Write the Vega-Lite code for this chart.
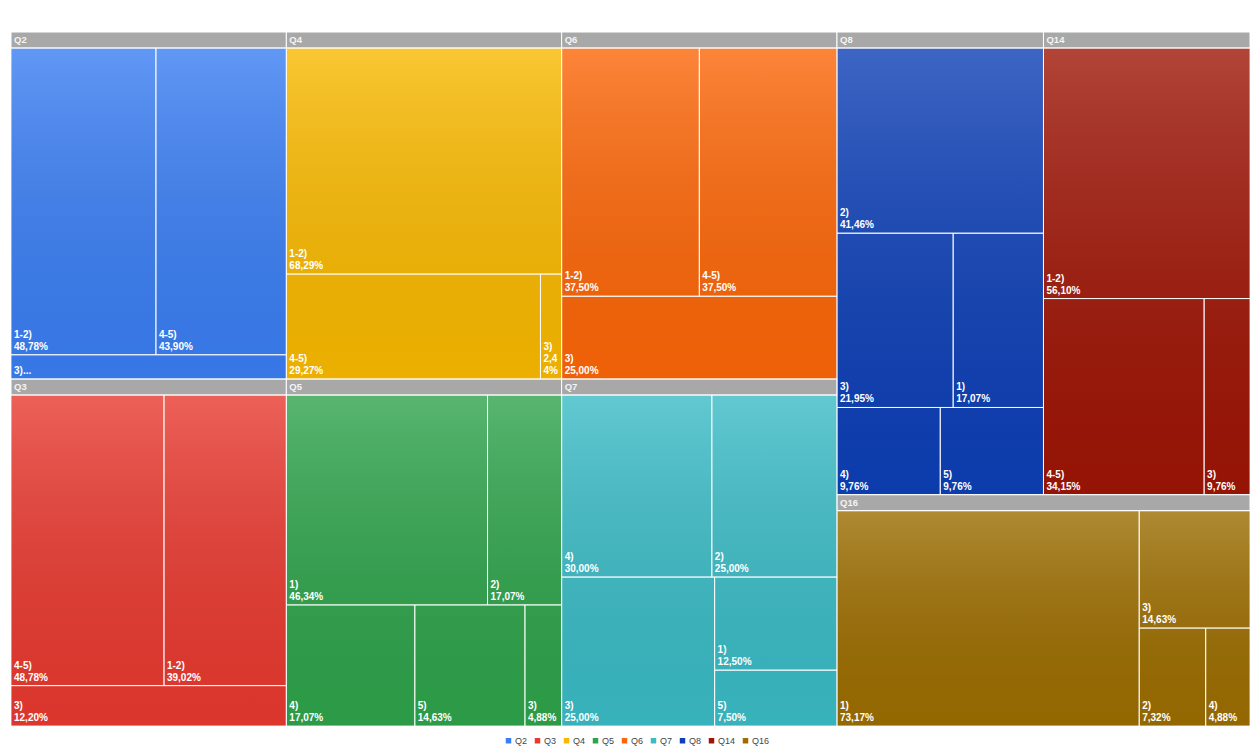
{
  "$schema": "https://vega.github.io/schema/vega-lite/v6.json",
  "width": 1239,
  "height": 694,
  "autosize": {"type": "none"},
  "padding": {"left": 11, "top": 32, "right": 1, "bottom": 27},
  "background": "white",
  "config": {"view": {"stroke": null}},
  "data": {"values": [
    {"question": "Q2", "col": 1, "row": 1, "g": 1, "a": 1, "b": 1, "c": 1, "d": 1, "label": "1-2)", "value": 48.78},
    {"question": "Q2", "col": 1, "row": 1, "g": 1, "a": 1, "b": 2, "c": 1, "d": 1, "label": "4-5)", "value": 43.90},
    {"question": "Q2", "col": 1, "row": 1, "g": 1, "a": 2, "b": 1, "c": 1, "d": 1, "label": "3)", "value": 7.32, "display": "3)..."},
    {"question": "Q3", "col": 1, "row": 2, "g": 1, "a": 1, "b": 1, "c": 1, "d": 1, "label": "4-5)", "value": 48.78},
    {"question": "Q3", "col": 1, "row": 2, "g": 1, "a": 1, "b": 2, "c": 1, "d": 1, "label": "1-2)", "value": 39.02},
    {"question": "Q3", "col": 1, "row": 2, "g": 1, "a": 2, "b": 1, "c": 1, "d": 1, "label": "3)", "value": 12.20},
    {"question": "Q4", "col": 2, "row": 1, "g": 1, "a": 1, "b": 1, "c": 1, "d": 1, "label": "1-2)", "value": 68.29},
    {"question": "Q4", "col": 2, "row": 1, "g": 1, "a": 2, "b": 1, "c": 1, "d": 1, "label": "4-5)", "value": 29.27},
    {"question": "Q4", "col": 2, "row": 1, "g": 1, "a": 2, "b": 2, "c": 1, "d": 1, "label": "3)", "value": 2.44, "display": "3)\n2,4\n4%"},
    {"question": "Q5", "col": 2, "row": 2, "g": 1, "a": 1, "b": 1, "c": 1, "d": 1, "label": "1)", "value": 46.34},
    {"question": "Q5", "col": 2, "row": 2, "g": 1, "a": 1, "b": 2, "c": 1, "d": 1, "label": "2)", "value": 17.07},
    {"question": "Q5", "col": 2, "row": 2, "g": 1, "a": 2, "b": 1, "c": 1, "d": 1, "label": "4)", "value": 17.07},
    {"question": "Q5", "col": 2, "row": 2, "g": 1, "a": 2, "b": 2, "c": 1, "d": 1, "label": "5)", "value": 14.63},
    {"question": "Q5", "col": 2, "row": 2, "g": 1, "a": 2, "b": 3, "c": 1, "d": 1, "label": "3)", "value": 4.88},
    {"question": "Q6", "col": 3, "row": 1, "g": 1, "a": 1, "b": 1, "c": 1, "d": 1, "label": "1-2)", "value": 37.50},
    {"question": "Q6", "col": 3, "row": 1, "g": 1, "a": 1, "b": 2, "c": 1, "d": 1, "label": "4-5)", "value": 37.50},
    {"question": "Q6", "col": 3, "row": 1, "g": 1, "a": 2, "b": 1, "c": 1, "d": 1, "label": "3)", "value": 25.00},
    {"question": "Q7", "col": 3, "row": 2, "g": 1, "a": 1, "b": 1, "c": 1, "d": 1, "label": "4)", "value": 30.00},
    {"question": "Q7", "col": 3, "row": 2, "g": 1, "a": 1, "b": 2, "c": 1, "d": 1, "label": "2)", "value": 25.00},
    {"question": "Q7", "col": 3, "row": 2, "g": 1, "a": 2, "b": 1, "c": 1, "d": 1, "label": "3)", "value": 25.00},
    {"question": "Q7", "col": 3, "row": 2, "g": 1, "a": 2, "b": 2, "c": 1, "d": 1, "label": "1)", "value": 12.50},
    {"question": "Q7", "col": 3, "row": 2, "g": 1, "a": 2, "b": 2, "c": 2, "d": 1, "label": "5)", "value": 7.50},
    {"question": "Q8", "col": 4, "row": 1, "g": 1, "a": 1, "b": 1, "c": 1, "d": 1, "label": "2)", "value": 41.46},
    {"question": "Q8", "col": 4, "row": 1, "g": 1, "a": 2, "b": 1, "c": 1, "d": 1, "label": "3)", "value": 21.95},
    {"question": "Q8", "col": 4, "row": 1, "g": 1, "a": 2, "b": 2, "c": 1, "d": 1, "label": "1)", "value": 17.07},
    {"question": "Q8", "col": 4, "row": 1, "g": 1, "a": 3, "b": 1, "c": 1, "d": 1, "label": "4)", "value": 9.76},
    {"question": "Q8", "col": 4, "row": 1, "g": 1, "a": 3, "b": 2, "c": 1, "d": 1, "label": "5)", "value": 9.76},
    {"question": "Q14", "col": 4, "row": 1, "g": 2, "a": 1, "b": 1, "c": 1, "d": 1, "label": "1-2)", "value": 56.10},
    {"question": "Q14", "col": 4, "row": 1, "g": 2, "a": 2, "b": 1, "c": 1, "d": 1, "label": "4-5)", "value": 34.15},
    {"question": "Q14", "col": 4, "row": 1, "g": 2, "a": 2, "b": 2, "c": 1, "d": 1, "label": "3)", "value": 9.76},
    {"question": "Q16", "col": 4, "row": 2, "g": 1, "a": 1, "b": 1, "c": 1, "d": 1, "label": "1)", "value": 73.17},
    {"question": "Q16", "col": 4, "row": 2, "g": 1, "a": 1, "b": 2, "c": 1, "d": 1, "label": "3)", "value": 14.63},
    {"question": "Q16", "col": 4, "row": 2, "g": 1, "a": 1, "b": 2, "c": 2, "d": 1, "label": "2)", "value": 7.32},
    {"question": "Q16", "col": 4, "row": 2, "g": 1, "a": 1, "b": 2, "c": 2, "d": 2, "label": "4)", "value": 4.88}
  ]},
  "transform": [
    {"stack": "value", "groupby": [], "offset": "normalize", "as": ["s1a", "s1b"],
     "sort": [{"field": "col"}, {"field": "row"}, {"field": "g"}, {"field": "a"}, {"field": "b"}, {"field": "c"}, {"field": "d"}]},
    {"joinaggregate": [{"op": "min", "field": "s1a", "as": "p1"}, {"op": "max", "field": "s1b", "as": "q1"}], "groupby": ["col"]},
    {"stack": "value", "groupby": ["col"], "offset": "normalize", "as": ["s2a", "s2b"],
     "sort": [{"field": "row"}, {"field": "g"}, {"field": "a"}, {"field": "b"}, {"field": "c"}, {"field": "d"}]},
    {"joinaggregate": [{"op": "min", "field": "s2a", "as": "p2"}, {"op": "max", "field": "s2b", "as": "q2"}], "groupby": ["col", "row"]},
    {"stack": "value", "groupby": ["col", "row"], "offset": "normalize", "as": ["s3a", "s3b"],
     "sort": [{"field": "g"}, {"field": "a"}, {"field": "b"}, {"field": "c"}, {"field": "d"}]},
    {"joinaggregate": [{"op": "min", "field": "s3a", "as": "p3"}, {"op": "max", "field": "s3b", "as": "q3"}], "groupby": ["col", "row", "g"]},
    {"calculate": "datum.p1 + (datum.q1 - datum.p1) * datum.p3", "as": "gx0"},
    {"calculate": "datum.p1 + (datum.q1 - datum.p1) * datum.q3", "as": "gx1"},
    {"calculate": "datum.p2", "as": "gy0"},
    {"calculate": "datum.q2", "as": "gy1"},
    {"calculate": "datum.p2 + 16 / 694", "as": "hy"},
    {"stack": "value", "groupby": ["col", "row", "g"], "offset": "normalize", "as": ["s4a", "s4b"],
     "sort": [{"field": "a"}, {"field": "b"}, {"field": "c"}, {"field": "d"}]},
    {"joinaggregate": [{"op": "min", "field": "s4a", "as": "p4"}, {"op": "max", "field": "s4b", "as": "q4"}], "groupby": ["col", "row", "g", "a"]},
    {"calculate": "datum.hy + (datum.gy1 - datum.hy) * datum.p4", "as": "ly0"},
    {"calculate": "datum.hy + (datum.gy1 - datum.hy) * datum.q4", "as": "ly1"},
    {"stack": "value", "groupby": ["col", "row", "g", "a"], "offset": "normalize", "as": ["s5a", "s5b"],
     "sort": [{"field": "b"}, {"field": "c"}, {"field": "d"}]},
    {"joinaggregate": [{"op": "min", "field": "s5a", "as": "p5"}, {"op": "max", "field": "s5b", "as": "q5"}], "groupby": ["col", "row", "g", "a", "b"]},
    {"calculate": "datum.gx0 + (datum.gx1 - datum.gx0) * datum.p5", "as": "lx0"},
    {"calculate": "datum.gx0 + (datum.gx1 - datum.gx0) * datum.q5", "as": "lx1"},
    {"stack": "value", "groupby": ["col", "row", "g", "a", "b"], "offset": "normalize", "as": ["s6a", "s6b"],
     "sort": [{"field": "c"}, {"field": "d"}]},
    {"joinaggregate": [{"op": "min", "field": "s6a", "as": "p6"}, {"op": "max", "field": "s6b", "as": "q6"}], "groupby": ["col", "row", "g", "a", "b", "c"]},
    {"calculate": "datum.ly0 + (datum.ly1 - datum.ly0) * datum.p6", "as": "my0"},
    {"calculate": "datum.ly0 + (datum.ly1 - datum.ly0) * datum.q6", "as": "my1"},
    {"stack": "value", "groupby": ["col", "row", "g", "a", "b", "c"], "offset": "normalize", "as": ["s7a", "s7b"],
     "sort": [{"field": "d"}]},
    {"calculate": "datum.lx0 + (datum.lx1 - datum.lx0) * datum.s7a", "as": "mx0"},
    {"calculate": "datum.lx0 + (datum.lx1 - datum.lx0) * datum.s7b", "as": "mx1"},
    {"calculate": "datum.display ? datum.display : datum.label + '\\n' + replace(format(datum.value, '.2f'), '.', ',') + '%'", "as": "txt"},
    {"calculate": "datum.my1 - (length(split(datum.txt, '\\n')) - 1) * 12 / 694", "as": "ty"}
  ],
  "layer": [
    {
      "mark": {"type": "rect", "strokeWidth": 0},
      "encoding": {
        "x": {"field": "mx0", "type": "quantitative", "axis": null, "scale": {"domain": [0, 1], "nice": false, "zero": false}},
        "x2": {"field": "mx1"},
        "y": {"field": "my0", "type": "quantitative", "axis": null, "scale": {"domain": [0, 1], "nice": false, "zero": false, "reverse": true}},
        "y2": {"field": "my1"},
        "color": {
          "field": "question", "type": "nominal",
          "scale": {
            "domain": ["Q2", "Q3", "Q4", "Q5", "Q6", "Q7", "Q8", "Q14", "Q16"],
            "range": ["#3a7ef3", "#e8392f", "#f9b900", "#2ea34b", "#fc6608", "#3abbc5", "#0d3fb6", "#9e1506", "#9c6d00"]
          },
          "legend": {
            "title": null, "orient": "none", "direction": "horizontal",
            "legendX": 493, "legendY": 704,
            "symbolType": "square", "symbolSize": 30, "symbolStrokeWidth": 0,
            "labelFontSize": 9, "labelColor": "#444444", "labelFont": "Liberation Sans",
            "labelOffset": 2, "columnPadding": 5
          }
        }
      }
    },
    {
      "transform": [
        {"aggregate": [
          {"op": "min", "field": "gx0", "as": "GX0"},
          {"op": "max", "field": "gx1", "as": "GX1"},
          {"op": "min", "field": "gy0", "as": "GY0"},
          {"op": "max", "field": "gy1", "as": "GY1"},
          {"op": "min", "field": "hy", "as": "HY"}
        ], "groupby": ["question"]}
      ],
      "layer": [
        {
          "mark": {
            "type": "rect", "strokeWidth": 0,
            "fill": {"gradient": "linear", "x1": 0, "y1": 0, "x2": 0, "y2": 1,
              "stops": [{"offset": 0, "color": "rgba(255,255,255,0.2)"}, {"offset": 1, "color": "rgba(0,0,0,0.05)"}]}
          },
          "encoding": {
            "x": {"field": "GX0", "type": "quantitative"},
            "x2": {"field": "GX1"},
            "y": {"field": "HY", "type": "quantitative"},
            "y2": {"field": "GY1"}
          }
        },
        {
          "mark": {"type": "rect", "fill": "#a8a8a8", "stroke": "#ffffff", "strokeWidth": 1},
          "encoding": {
            "x": {"field": "GX0", "type": "quantitative"},
            "x2": {"field": "GX1"},
            "y": {"field": "GY0", "type": "quantitative"},
            "y2": {"field": "HY"}
          }
        },
        {
          "mark": {"type": "text", "align": "left", "baseline": "middle", "dx": 3, "dy": 8, "font": "Liberation Sans", "fontSize": 9.5, "fontWeight": "bold", "color": "#f4f4f4"},
          "encoding": {
            "x": {"field": "GX0", "type": "quantitative"},
            "y": {"field": "GY0", "type": "quantitative"},
            "text": {"field": "question", "type": "nominal"}
          }
        }
      ]
    },
    {
      "mark": {"type": "rect", "filled": false, "stroke": "#ffffff", "strokeWidth": 1, "strokeOpacity": 0.8},
      "encoding": {
        "x": {"field": "mx0", "type": "quantitative"},
        "x2": {"field": "mx1"},
        "y": {"field": "my0", "type": "quantitative"},
        "y2": {"field": "my1"}
      }
    },
    {
      "mark": {"type": "text", "align": "left", "baseline": "bottom", "dx": 3, "dy": -3, "lineBreak": "\n", "lineHeight": 12, "font": "Liberation Sans", "fontSize": 10, "fontWeight": "bold", "color": "#ffffff"},
      "encoding": {
        "x": {"field": "mx0", "type": "quantitative"},
        "y": {"field": "ty", "type": "quantitative"},
        "text": {"field": "txt", "type": "nominal"}
      }
    }
  ]
}
